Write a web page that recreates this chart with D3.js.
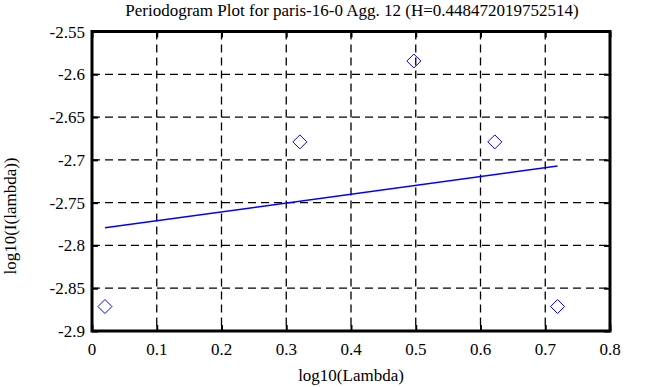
<!DOCTYPE html>
<html>
<head>
<meta charset="utf-8">
<script src="https://cdn.jsdelivr.net/npm/d3@7"></script>
<style>
  body { margin: 0; background: #fff; }
  svg { display: block; }
  .lbl { font-family: "Liberation Serif", "Times New Roman", serif; font-size: 17px; fill: #000; }
</style>
</head>
<body>
<svg id="chart" width="663" height="387"></svg>
<script>
"use strict";

// data
var logLambda = [0.0200, 0.3210, 0.4971, 0.6221, 0.7190];
var logPower = [-2.8714, -2.6790, -2.5845, -2.6790, -2.8714];
var fitX = [0.0200, 0.7190];
var fitY = [-2.7793, -2.7073];
var xTicks = [0, 0.1, 0.2, 0.3, 0.4, 0.5, 0.6, 0.7, 0.8];
var yTicks = [-2.9, -2.85, -2.8, -2.75, -2.7, -2.65, -2.6, -2.55];

var titleText = 'Periodogram Plot for paris-16-0 Agg. 12 (H=0.448472019752514)';
var xLabel = 'log10(Lambda)';
var yLabel = 'log10(I(lambda))';

var svg = d3.select('#chart');
var pLeft = 92, pRight = 610, pTop = 31.5, pBottom = 331;

var x = d3.scaleLinear().domain([0, 0.8]).range([pLeft, pRight]);
var y = d3.scaleLinear().domain([-2.9, -2.55]).range([pBottom, pTop]);

function fmt(v) { return String(+v.toFixed(2)); }

// dashed grid
svg.append('g').selectAll('line').data(xTicks.slice(1, -1)).enter().append('line')
    .attr('x1', function (d) { return x(d); })
    .attr('x2', function (d) { return x(d); })
    .attr('y1', pTop).attr('y2', pBottom)
    .attr('stroke', '#000').attr('stroke-width', 1.3)
    .attr('stroke-dasharray', '8,5');
svg.append('g').selectAll('line').data(yTicks.slice(1, -1)).enter().append('line')
    .attr('y1', function (d) { return y(d); })
    .attr('y2', function (d) { return y(d); })
    .attr('x1', pLeft).attr('x2', pRight)
    .attr('stroke', '#000').attr('stroke-width', 1.3)
    .attr('stroke-dasharray', '8,5');

// axes: inward ticks on every side, labels drawn separately
var axisB = d3.axisBottom(x).tickValues(xTicks).tickSize(-6).tickFormat('');
var axisT = d3.axisTop(x).tickValues(xTicks).tickSize(-6).tickFormat('');
var axisL = d3.axisLeft(y).tickValues(yTicks).tickSize(-6).tickFormat('');
var axisR = d3.axisRight(y).tickValues(yTicks).tickSize(-6).tickFormat('');

function styleAxis(g) {
    g.select('.domain').remove();
    g.selectAll('.tick line').attr('stroke', '#000').attr('stroke-width', 2);
    g.selectAll('.tick text').remove();
}

svg.append('g').attr('transform', 'translate(0,' + pBottom + ')').call(axisB).call(styleAxis);
svg.append('g').attr('transform', 'translate(0,' + pTop + ')').call(axisT).call(styleAxis);
svg.append('g').attr('transform', 'translate(' + pLeft + ',0)').call(axisL).call(styleAxis);
svg.append('g').attr('transform', 'translate(' + pRight + ',0)').call(axisR).call(styleAxis);

svg.append('g').selectAll('text').data(xTicks).enter().append('text')
    .attr('class', 'lbl')
    .attr('x', function (d) { return x(d); })
    .attr('y', pBottom + 24)
    .attr('text-anchor', 'middle')
    .text(fmt);
svg.append('g').selectAll('text').data(yTicks).enter().append('text')
    .attr('class', 'lbl')
    .attr('x', pLeft - 7)
    .attr('y', function (d) { return y(d) + 6; })
    .attr('text-anchor', 'end')
    .text(fmt);

// frame
svg.append('rect')
    .attr('x', pLeft).attr('y', pTop)
    .attr('width', pRight - pLeft).attr('height', pBottom - pTop)
    .attr('fill', 'none').attr('stroke', '#000').attr('stroke-width', 3);

// fitted line
var line = d3.line()
    .x(function (d) { return x(d[0]); })
    .y(function (d) { return y(d[1]); });
svg.append('path')
    .datum(d3.zip(fitX, fitY))
    .attr('d', line)
    .attr('fill', 'none').attr('stroke', '#0000ff').attr('stroke-width', 1.5);

// periodogram points
svg.append('g').selectAll('path').data(d3.zip(logLambda, logPower)).enter().append('path')
    .attr('transform', function (d) { return 'translate(' + x(d[0]) + ',' + y(d[1]) + ')'; })
    .attr('d', 'M0,-7L7,0L0,7L-7,0Z')
    .attr('fill', 'none').attr('stroke', '#0000ff').attr('stroke-width', 1);

// texts
svg.append('text')
    .attr('class', 'lbl')
    .attr('x', 352).attr('y', 16)
    .attr('text-anchor', 'middle')
    .text(titleText);
svg.append('text')
    .attr('class', 'lbl')
    .attr('x', (pLeft + pRight) / 2).attr('y', 381)
    .attr('text-anchor', 'middle')
    .text(xLabel);
svg.append('text')
    .attr('class', 'lbl')
    .attr('transform', 'translate(16,216) rotate(-90)')
    .attr('text-anchor', 'middle')
    .text(yLabel);
</script>
</body>
</html>
